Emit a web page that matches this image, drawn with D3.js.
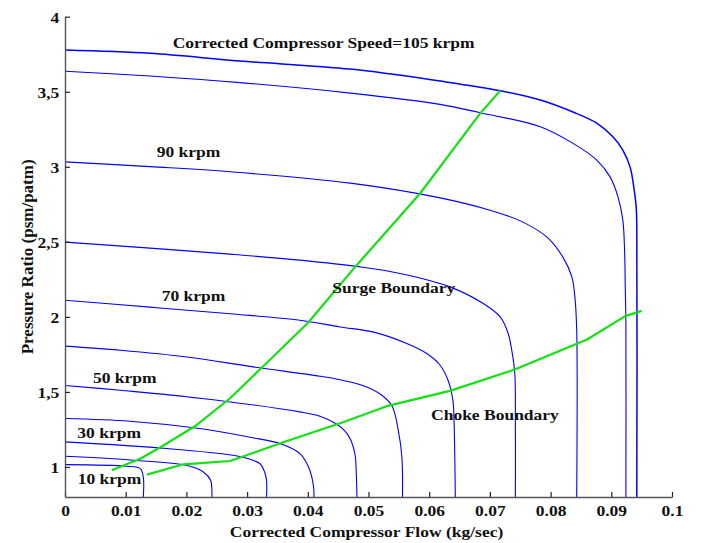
<!DOCTYPE html>
<html>
<head>
<meta charset="utf-8">
<script src="https://cdn.jsdelivr.net/npm/d3@7"></script>
<style>
  html, body { margin: 0; padding: 0; background: #fff; }
  svg text { font-family: "Liberation Serif", "Times New Roman", serif; font-weight: bold; fill: #111; }
</style>
</head>
<body>
<svg id="chart" width="708" height="543"></svg>
<script>
// Compressor map: corrected speed lines [flow kg/s, pressure ratio]
const speeds = [10, 20, 30, 40, 50, 60, 70, 80, 90, 100, 105];

const line10 = [[0, 1.016], [0.0102, 1.005], [0.0124, 0.989], [0.0129, 0.933], [0.0129, 0.8]];
const line20 = [[0, 1.071], [0.0113, 1.045], [0.0200, 1.011], [0.0228, 0.967], [0.0240, 0.911], [0.0242, 0.845], [0.0242, 0.8]];
const line30 = [[0, 1.167], [0.0168, 1.123], [0.0277, 1.078], [0.0305, 1.051], [0.0321, 1.023], [0.0329, 0.965], [0.0332, 0.911], [0.0332, 0.8]];
const line40 = [[0, 1.323], [0.0107, 1.305], [0.0222, 1.256], [0.0305, 1.198], [0.0354, 1.156], [0.0387, 1.089], [0.0400, 1.011], [0.0407, 0.926], [0.0410, 0.845], [0.0410, 0.8]];
const line50 = [[0, 1.543], [0.0091, 1.511], [0.0222, 1.458], [0.0387, 1.367], [0.0420, 1.338], [0.0445, 1.291], [0.0461, 1.241], [0.0471, 1.178], [0.0478, 1.078], [0.0480, 0.945], [0.0481, 0.8]];
const line60 = [[0, 1.805], [0.0091, 1.778], [0.0201, 1.733], [0.0310, 1.667], [0.0420, 1.605], [0.0453, 1.581], [0.0494, 1.538], [0.0522, 1.478], [0.0539, 1.405], [0.0549, 1.245], [0.0555, 1.067], [0.0556, 0.8]];
const line70 = [[0, 2.111], [0.0140, 2.065], [0.0272, 2.021], [0.0387, 1.978], [0.0453, 1.933], [0.0507, 1.900], [0.0563, 1.823], [0.0596, 1.756], [0.0618, 1.678], [0.0631, 1.578], [0.0639, 1.445], [0.0641, 1.291], [0.0643, 0.8]];
const line80 = [[0, 2.498], [0.0140, 2.458], [0.0272, 2.418], [0.0387, 2.378], [0.0486, 2.333], [0.0552, 2.289], [0.0634, 2.200], [0.0689, 2.089], [0.0717, 2.000], [0.0730, 1.891], [0.0736, 1.778], [0.0741, 1.625], [0.0742, 1.291], [0.0742, 0.8]];
const line90 = [[0, 3.033], [0.0140, 3.001], [0.0272, 2.967], [0.0470, 2.891], [0.0618, 2.793], [0.0700, 2.711], [0.0751, 2.638], [0.0794, 2.531], [0.0820, 2.400], [0.0835, 2.267], [0.0840, 2.133], [0.0843, 1.911], [0.0843, 0.8]];
const line100 = [[0, 3.637], [0.0140, 3.605], [0.0288, 3.561], [0.0470, 3.491], [0.0618, 3.416], [0.0684, 3.360], [0.0783, 3.267], [0.0837, 3.156], [0.0876, 3.045], [0.0898, 2.933], [0.0911, 2.800], [0.0919, 2.645], [0.0922, 2.425], [0.0923, 2.198], [0.0924, 1.978], [0.0924, 0.8]];
const line105 = [[0, 3.778], [0.0140, 3.756], [0.0288, 3.705], [0.0470, 3.651], [0.0618, 3.571], [0.0717, 3.507], [0.0783, 3.445], [0.0837, 3.365], [0.0876, 3.291], [0.0903, 3.198], [0.0919, 3.111], [0.0931, 2.998], [0.0937, 2.865], [0.0941, 2.731], [0.0942, 2.598], [0.0942, 0.8]];

const speedLines = [line10, line20, line30, line40, line50, line60, line70, line80, line90, line100, line105];

// Operating limits
const surge = [[0.0077, 0.978], [0.0124, 1.055], [0.0160, 1.138], [0.0214, 1.271], [0.0272, 1.458], [0.0330, 1.685], [0.0400, 1.959], [0.0478, 2.333], [0.0585, 2.822], [0.0684, 3.356], [0.0717, 3.507]];
const choke = [[0.0135, 0.949], [0.0195, 1.018], [0.0272, 1.040], [0.0362, 1.168], [0.0458, 1.298], [0.0530, 1.405], [0.0634, 1.507], [0.0741, 1.649], [0.0860, 1.849], [0.0923, 2.005], [0.0950, 2.040]];

const xTicks = [0, 0.01, 0.02, 0.03, 0.04, 0.05, 0.06, 0.07, 0.08, 0.09, 0.1];
const yTicks = [1, 1.5, 2, 2.5, 3, 3.5, 4];

const speedLabels = ["Corrected Compressor Speed=105 krpm", "90 krpm", "70 krpm", "50 krpm", "30 krpm", "10 krpm"];
const boundaryLabels = ["Surge Boundary", "Choke Boundary"];
const xTitle = "Corrected Compressor Flow (kg/sec)";
const yTitle = "Pressure Ratio (psm/patm)";

// ---- layout ----
const svg = d3.select("#chart");
const x = d3.scaleLinear().domain([0, 0.1]).range([65, 672]);
const y = d3.scaleLinear().domain([0.8, 4]).range([497, 16.7]);
const stretch = "scale(1.13,1)";
const fontSize = 15.5;

const line = d3.line()
  .x(d => x(d[0]))
  .y(d => y(d[1]))
  .curve(d3.curveCatmullRom.alpha(0.5));

// speed lines
svg.append("g").selectAll("path")
  .data(speedLines)
  .join("path")
  .attr("d", line)
  .attr("fill", "none")
  .attr("stroke", "#0000ff")
  .attr("stroke-width", (d, i) => speeds[i] === 105 ? 1.5 : 1.1);

// surge and choke boundaries
svg.append("g").selectAll("path")
  .data([surge, choke])
  .join("path")
  .attr("d", d3.line().x(d => x(d[0])).y(d => y(d[1])))
  .attr("fill", "none")
  .attr("stroke", "#14e014")
  .attr("stroke-width", 2.2)
  .attr("stroke-linejoin", "round");

// axes with inward ticks
const xAxis = svg.append("g")
  .attr("transform", `translate(0,${y(0.8)})`)
  .call(d3.axisBottom(x).tickValues(xTicks).tickSize(-5).tickSizeOuter(0).tickFormat(d => String(d)));
xAxis.selectAll("text")
  .attr("y", 19.5).attr("dy", null)
  .attr("transform", stretch)
  .style("font-size", fontSize + "px");

const yAxis = svg.append("g")
  .attr("transform", `translate(${x(0)},0)`)
  .call(d3.axisLeft(y).tickValues(yTicks).tickSize(-5).tickSizeOuter(0).tickFormat(d => String(d).replace(".", ",")));
yAxis.selectAll("text")
  .attr("x", -5).attr("dy", "0.36em")
  .attr("transform", stretch)
  .style("font-size", fontSize + "px");

[xAxis, yAxis].forEach(g => {
  g.select(".domain").attr("stroke", "#555").attr("stroke-width", 1.4);
  g.selectAll(".tick line").attr("stroke", "#222").attr("stroke-width", 1.2);
});

// axis titles
svg.append("text")
  .attr("transform", `translate(${(x(0) + x(0.1)) / 2 - 2},536.5) ${stretch}`)
  .attr("text-anchor", "middle")
  .style("font-size", fontSize + "px")
  .text(xTitle);

svg.append("text")
  .attr("transform", `translate(33,${(y(0.8) + y(4)) / 2}) rotate(-90)`)
  .attr("text-anchor", "middle")
  .style("font-size", "17px")
  .text(yTitle);

// in-plot annotations, anchored in data units
const speedLabelAnchors = [[0.01774, 3.789], [0.01511, 3.067], [0.01593, 2.105], [0.00461, 1.558], [0.00203, 1.193], [0.00209, 0.889]];
const boundaryLabelAnchors = [[0.04404, 2.160], [0.0603, 1.316]];

svg.append("g").selectAll("text")
  .data(speedLabels.map((t, i) => [t, speedLabelAnchors[i]]).concat(boundaryLabels.map((t, i) => [t, boundaryLabelAnchors[i]])))
  .join("text")
  .attr("transform", d => `translate(${x(d[1][0])},${y(d[1][1])}) ${stretch}`)
  .style("font-size", fontSize + "px")
  .text(d => d[0]);
</script>
</body>
</html>
